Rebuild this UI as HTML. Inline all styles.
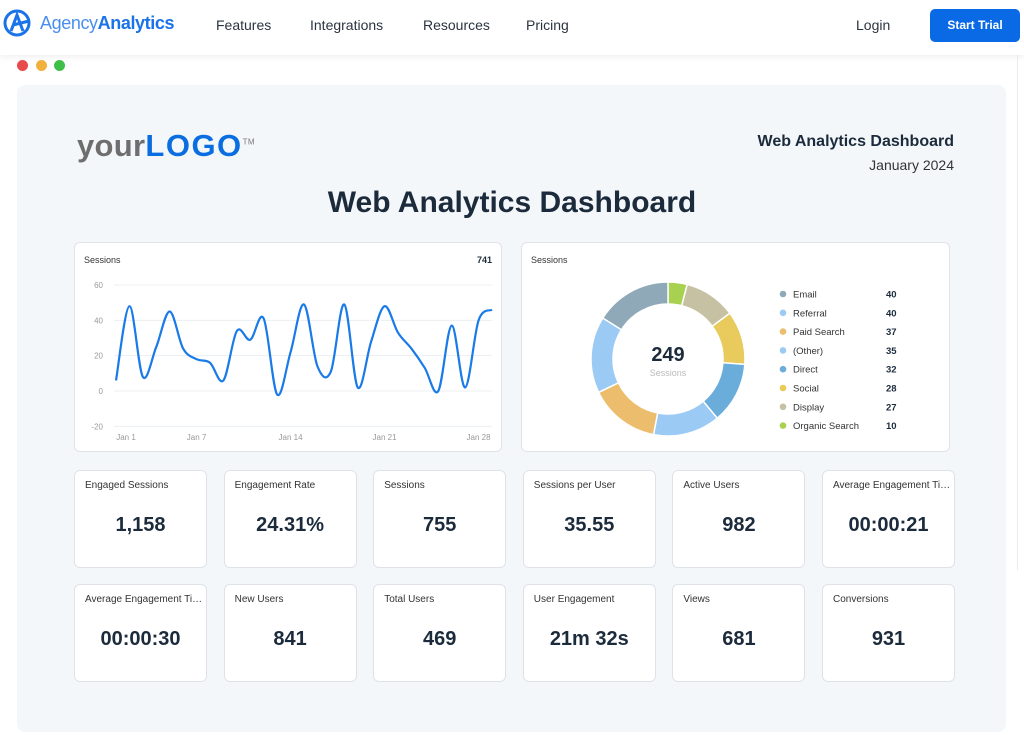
<!DOCTYPE html>
<html><head><meta charset="utf-8"><style>
*{box-sizing:border-box;margin:0;padding:0}
body{width:1024px;height:735px;background:#fff;font-family:"Liberation Sans",sans-serif;position:relative;overflow:hidden;color:#1d2b3a}
.abs{position:absolute}
.nav a{position:absolute;top:17px;font-size:14px;color:#2a3441;text-decoration:none}
.card{position:absolute;background:#fff;border:1px solid #dfe3e8;border-radius:6px}
.kpi{width:133px;height:98px}
.kpi .t{position:absolute;left:10px;top:9px;font-size:10px;color:#333;white-space:nowrap;overflow:hidden;width:118px;text-overflow:ellipsis}
.kpi .v{position:absolute;left:0;right:0;top:43px;text-align:center;font-size:20px;font-weight:bold;color:#1c2b3c}
</style></head><body>
<div class="abs" style="left:0;top:0;width:1024px;height:55px;background:#fff;box-shadow:0 2px 6px rgba(0,0,0,0.07)">
 <svg class="abs" style="left:3px;top:9px" width="30" height="28" viewBox="0 0 30 28"><circle cx="14" cy="14" r="12" fill="none" stroke="#1a73e8" stroke-width="3"/><path d="M8 22 L14 6 L20 22 M10 16 L26 12" stroke="#1a73e8" stroke-width="3" fill="none"/></svg>
 <div class="abs" style="left:40px;top:13px;font-size:18px;color:#1a73e8;letter-spacing:-0.4px"><span style="font-weight:normal;color:#4a8ff0">Agency</span><b>Analytics</b></div>
 <div class="nav">
  <a style="left:216px">Features</a>
  <a style="left:310px">Integrations</a>
  <a style="left:423px">Resources</a>
  <a style="left:526px">Pricing</a>
  <a style="left:856px">Login</a>
 </div>
 <div class="abs" style="left:930px;top:9px;width:90px;height:33px;background:#0a6ae6;border-radius:5px;color:#fff;font-size:12px;font-weight:bold;text-align:center;line-height:33px">Start Trial</div>
</div>
<div class="abs" style="left:17px;top:60px">
 <span class="abs" style="left:0;top:0;width:11px;height:11px;border-radius:50%;background:#e84b4b"></span>
 <span class="abs" style="left:19px;top:0;width:11px;height:11px;border-radius:50%;background:#f2b13d"></span>
 <span class="abs" style="left:37px;top:0;width:11px;height:11px;border-radius:50%;background:#3fbf4a"></span>
</div>
<div class="abs" style="left:1017px;top:55px;width:1px;height:515px;background:#e8ebef"></div>
<div class="abs" style="left:17px;top:85px;width:989px;height:647px;background:#f4f7fa;border-radius:8px"></div>
<div class="abs" style="left:77px;top:128px;font-size:31px;letter-spacing:0.3px"><span style="color:#6e6e6e;font-weight:bold">your</span><b style="color:#0b6ee0;letter-spacing:1.5px">LOGO</b><sup style="font-size:8px;color:#777">TM</sup></div>
<div class="abs" style="right:70px;top:133px;font-size:16px;font-weight:bold;color:#1c2b3c;text-align:right">Web Analytics Dashboard</div>
<div class="abs" style="right:70px;top:157px;font-size:14px;color:#333;text-align:right">January 2024</div>
<div class="abs" style="left:0;width:1024px;top:186px;text-align:center;font-size:30px;font-weight:bold;color:#1c2b3c">Web Analytics Dashboard</div>

<div class="card" style="left:74px;top:242px;width:428px;height:210px">
 <div class="abs" style="left:9px;top:12px;font-size:9px;color:#333">Sessions</div>
 <div class="abs" style="right:9px;top:12px;font-size:9px;font-weight:bold">741</div>
</div>
<svg class="abs" id="line" style="left:0;top:0" width="1024" height="735"></svg>

<div class="card" style="left:521px;top:242px;width:429px;height:210px">
 <div class="abs" style="left:9px;top:12px;font-size:9px;color:#333">Sessions</div>
</div>
<svg class="abs" id="donut" style="left:0;top:0" width="1024" height="735"></svg>

<div id="kpis"></div>
<script>
var NS="http://www.w3.org/2000/svg";
function mk(p,t,a){var e=document.createElementNS(NS,t);for(var k in a)e.setAttribute(k,a[k]);p.appendChild(e);return e;}
// line chart data
var days=["Jan 1","Jan 2","Jan 3","Jan 4","Jan 5","Jan 6","Jan 7","Jan 8","Jan 9","Jan 10","Jan 11","Jan 12","Jan 13","Jan 14","Jan 15","Jan 16","Jan 17","Jan 18","Jan 19","Jan 20","Jan 21","Jan 22","Jan 23","Jan 24","Jan 25","Jan 26","Jan 27","Jan 28","Jan 29"];
var sessions=[6,48,8,25,45,24,18,16,6,34,29,41,-2,22,49,14,11,49,2,28,48,33,24,13,0,37,2,40,46];
var yTicks=[60,40,20,0,-20];
var xLabels=["Jan 1","Jan 7","Jan 14","Jan 21","Jan 28"];
var svg=document.getElementById("line");
var x0=116,x1=492;
function X(i){return x0+i*(x1-x0)/(days.length-1);}
function Y(v){return 391-v*(106/60);}
yTicks.forEach(function(t){
 var l=mk(svg,"line",{x1:114,x2:492,y1:Y(t),y2:Y(t),stroke:"#eceff2","stroke-width":1});
 
 
 var tx=mk(svg,"text",{x:103,y:Y(t)+3,"text-anchor":"end","font-size":8,fill:"#999","font-family":"Liberation Sans"});
 tx.textContent=t;
 
 
});
xLabels.forEach(function(lb){
 var i=days.indexOf(lb);
 var tx=mk(svg,"text",{x:X(i)+(i==0?10:0),y:440,"text-anchor":"middle","font-size":8,fill:"#999","font-family":"Liberation Sans"});
 tx.textContent=lb;
 
 
});
var pts=sessions.map(function(v,i){return [X(i),Y(v)];});
var d="M"+pts[0][0]+","+pts[0][1];
for(var i=0;i<pts.length-1;i++){
 var p0=pts[i-1]||pts[i],p1=pts[i],p2=pts[i+1],p3=pts[i+2]||p2;
 var c1x=p1[0]+(p2[0]-p0[0])/6,c1y=p1[1]+(p2[1]-p0[1])/6,c2x=p2[0]-(p3[0]-p1[0])/6,c2y=p2[1]-(p3[1]-p1[1])/6;
 d+=" C"+c1x+","+c1y+" "+c2x+","+c2y+" "+p2[0]+","+p2[1];
}
var path=mk(svg,"path",{d:d,fill:"none",stroke:"#1a7ae8","stroke-width":2.2});



// donut data
var channels=["Email","Referral","Paid Search","(Other)","Direct","Social","Display","Organic Search"];
var channelValues=[40,40,37,35,32,28,27,10];
var channelColors=["#8fa9b8","#9bcaf5","#ecbd6c","#9bcaf5","#6aaddb","#e8cb5c","#c6c1a2","#a8d152"];
var dv=document.getElementById("donut");
var cx=668,cy=359,ro=77,ri=55;
var total=channelValues.reduce(function(a,b){return a+b;},0);
var ang=0;
function P(r,a){return [cx+r*Math.sin(a),cy-r*Math.cos(a)];}
for(var k=channelValues.length-1;k>=0;k--){
 var a0=ang,a1=ang+channelValues[k]/total*2*Math.PI;ang=a1;
 var A=P(ro,a0),B=P(ro,a1),C=P(ri,a1),D=P(ri,a0),lg=(a1-a0)>Math.PI?1:0;
 var s=mk(dv,"path",{d:"M"+A+" A"+ro+","+ro+" 0 "+lg+" 1 "+B+" L"+C+" A"+ri+","+ri+" 0 "+lg+" 0 "+D+"Z",fill:channelColors[k],stroke:"#fff","stroke-width":1.5});
 
 
}
var ct=mk(dv,"text",{x:cx,y:cy+2,"text-anchor":"middle","font-size":20,"font-weight":"bold",fill:"#1c2b3c","font-family":"Liberation Sans"});
ct.textContent=total;


var cs=mk(dv,"text",{x:cx,y:cy+17,"text-anchor":"middle","font-size":9,fill:"#bbb","font-family":"Liberation Sans"});
cs.textContent="Sessions";


channels.forEach(function(c,i){
 var y=294+i*18.8;
 var g=mk(dv,"g",{});
 
 
 mk(g,"circle",{cx:783,cy:y,r:3.3,fill:channelColors[i]});
 var t=mk(g,"text",{x:793,y:y+3.5,"font-size":9.5,fill:"#333","font-family":"Liberation Sans"});t.textContent=c;
 var v=mk(g,"text",{x:886,y:y+3.5,"font-size":9.5,"font-weight":"bold",fill:"#1c2b3c","font-family":"Liberation Sans"});v.textContent=channelValues[i];
});

// KPIs
var kpiTitles=["Engaged Sessions","Engagement Rate","Sessions","Sessions per User","Active Users","Average Engagement Time per Session","Average Engagement Time","New Users","Total Users","User Engagement","Views","Conversions"];
var kpiValues=["1,158","24.31%","755","35.55","982","00:00:21","00:00:30","841","469","21m 32s","681","931"];
var box=document.getElementById("kpis");
kpiTitles.forEach(function(t,i){
 var c=document.createElement("div");
 c.className="card kpi";
 c.style.left=(74+(i%6)*149.6)+"px";
 c.style.top=(i<6?470:584)+"px";
 
 
 c.innerHTML='<div class="t">'+t+'</div><div class="v">'+kpiValues[i]+'</div>';
 box.appendChild(c);
});
</script>
</body></html>
